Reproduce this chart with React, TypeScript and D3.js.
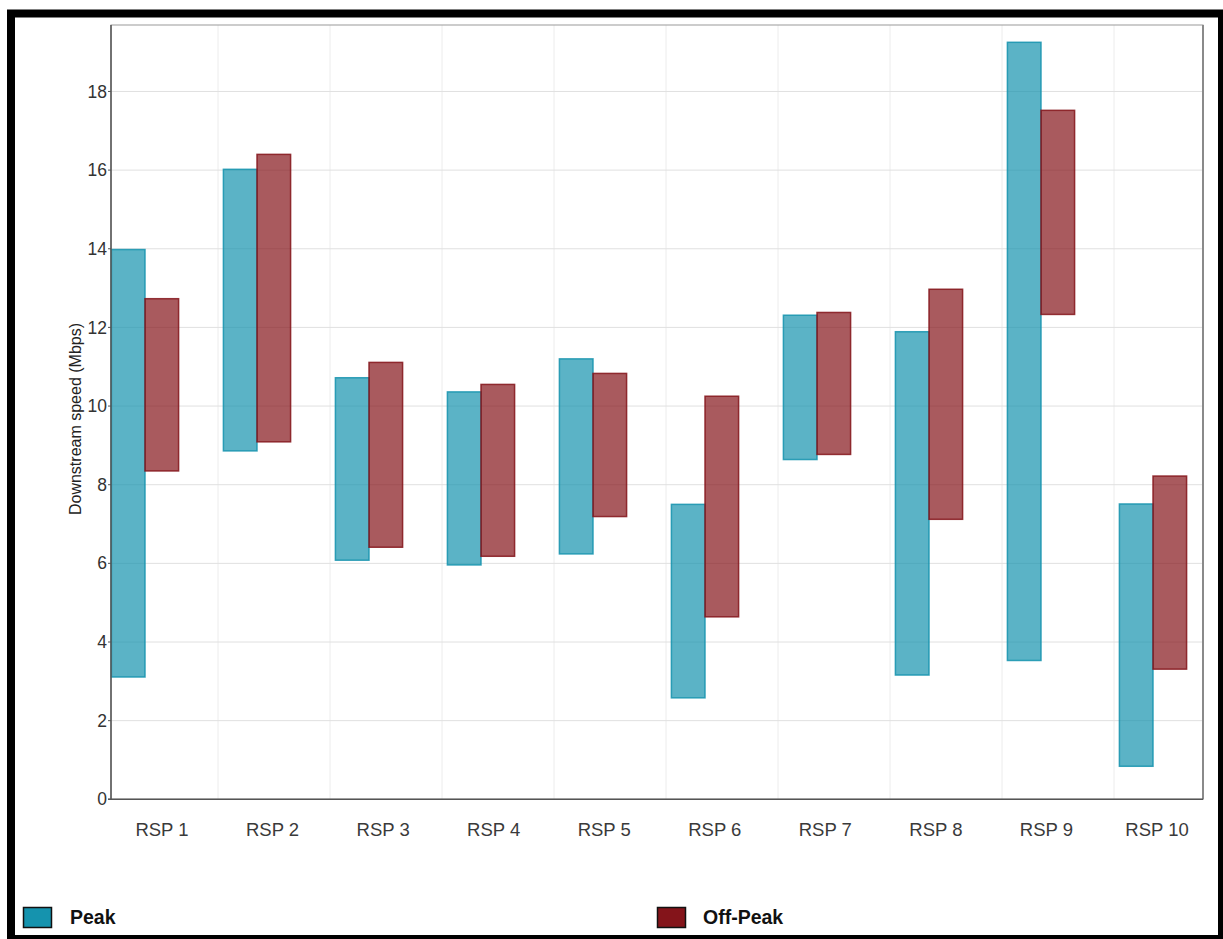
import * as d3 from 'd3'

const categories = ['RSP 1', 'RSP 2', 'RSP 3', 'RSP 4', 'RSP 5', 'RSP 6', 'RSP 7', 'RSP 8', 'RSP 9', 'RSP 10']
const peakLow = [3.11, 8.86, 6.08, 5.96, 6.24, 2.58, 8.64, 3.16, 3.53, 0.84]
const peakHigh = [13.98, 16.02, 10.72, 10.36, 11.2, 7.5, 12.31, 11.89, 19.25, 7.51]
const offLow = [8.35, 9.09, 6.41, 6.18, 7.19, 4.64, 8.77, 7.12, 12.33, 3.31]
const offHigh = [12.73, 16.4, 11.11, 10.55, 10.83, 10.25, 12.38, 12.97, 17.52, 8.22]
const yTicks = [0, 2, 4, 6, 8, 10, 12, 14, 16, 18]

const PEAK = '#1593ae'
const OFF = '#84141a'
const FONT = "'Liberation Sans', Arial, sans-serif"

export default function App() {
  const width = 1223
  const height = 939
  const plot = { left: 111, right: 1203, top: 25, bottom: 799.3 }

  const y = d3.scaleLinear().domain([0, 19.69]).range([plot.bottom, plot.top])
  // bar pairs
  const x = d3.scaleBand().domain(categories).range([89, 1209]).padding(0)
  // category labels sit on their own spacing
  const xLabel = d3.scalePoint().domain(categories).range([162, 1157])
  const barW = x.bandwidth() * 0.3

  return (
    <svg
      width={width}
      height={height}
      style={{ position: 'absolute', left: 0, top: 0, display: 'block', background: '#fff' }}
      fontFamily={FONT}
    >
      {/* outer frame */}
      <rect x={11} y={13.5} width={1211} height={925.5} fill="#fff" stroke="#000" strokeWidth={8} />

      {/* grid */}
      {categories.slice(0, 9).map(c => (
        <line
          key={'vg' + c}
          x1={x(c)! + x.step() * 1.152}
          x2={x(c)! + x.step() * 1.152}
          y1={plot.top}
          y2={plot.bottom}
          stroke="#ececec"
          strokeWidth={1}
        />
      ))}
      {yTicks.slice(1).map(t => (
        <line key={'hg' + t} x1={plot.left} x2={plot.right} y1={y(t)} y2={y(t)} stroke="#e0e0e0" strokeWidth={1} />
      ))}

      {/* plot border */}
      <rect
        x={plot.left}
        y={plot.top}
        width={plot.right - plot.left}
        height={plot.bottom - plot.top}
        fill="none"
        stroke="#9a9a9a"
        strokeWidth={1}
      />
      <line x1={plot.right} x2={plot.right} y1={plot.top} y2={plot.bottom} stroke="#8a8a8a" strokeWidth={2} />

      {/* bars */}
      {categories.map((c, i) => {
        const cx = x(c)! + x.bandwidth() / 2
        return (
          <g key={c}>
            <rect
              x={cx - barW}
              y={y(peakHigh[i])}
              width={barW}
              height={y(peakLow[i]) - y(peakHigh[i])}
              fill={PEAK}
              fillOpacity={0.7}
              stroke={PEAK}
              strokeOpacity={0.85}
              strokeWidth={1.5}
            />
            <rect
              x={cx}
              y={y(offHigh[i])}
              width={barW}
              height={y(offLow[i]) - y(offHigh[i])}
              fill={OFF}
              fillOpacity={0.7}
              stroke={OFF}
              strokeOpacity={0.85}
              strokeWidth={1.5}
            />
          </g>
        )
      })}

      {/* axes lines */}
      <line x1={plot.left} x2={plot.left} y1={plot.top} y2={plot.bottom} stroke="#555" strokeWidth={1.5} />
      <line x1={plot.left - 3} x2={plot.right} y1={plot.bottom} y2={plot.bottom} stroke="#555" strokeWidth={1.5} />

      {/* y ticks */}
      {yTicks.map(t => (
        <g key={'yt' + t}>
          <line x1={plot.left - 3} x2={plot.left} y1={y(t)} y2={y(t)} stroke="#555" strokeWidth={1} />
          <text x={107} y={y(t)} dy="0.35em" textAnchor="end" fontSize={17.5} fill="#333">
            {t}
          </text>
        </g>
      ))}

      {/* x labels */}
      {categories.map(c => (
        <text key={'xl' + c} x={xLabel(c)} y={836} textAnchor="middle" fontSize={18.5} fill="#3a3a3a">
          {c}
        </text>
      ))}

      {/* y axis title */}
      <text
        transform={`translate(81,${419}) rotate(-90)`}
        textAnchor="middle"
        fontSize={16}
        fill="#222"
      >
        Downstream speed (Mbps)
      </text>

      {/* legend */}
      <rect x={23.5} y={907.5} width={28} height={20} fill={PEAK} stroke="#111" strokeWidth={1.5} />
      <text x={70} y={924} fontSize={19.5} fontWeight="bold" fill="#111">
        Peak
      </text>
      <rect x={657.5} y={907.5} width={28} height={20} fill={OFF} stroke="#111" strokeWidth={1.5} />
      <text x={703} y={924} fontSize={19.5} fontWeight="bold" fill="#111">
        Off-Peak
      </text>
    </svg>
  )
}
